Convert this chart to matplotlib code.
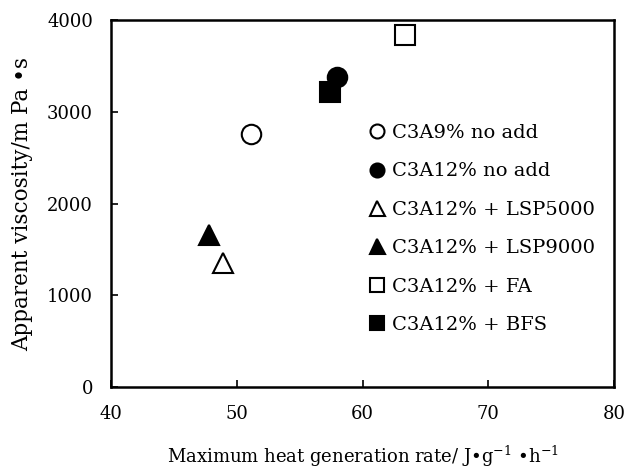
import matplotlib.pyplot as plt

# samples: label, max heat rate (J/g/h), apparent viscosity (mPa.s)
labels = [
    "C3A9% no add",
    "C3A12% no add",
    "C3A12% + LSP5000",
    "C3A12% + LSP9000",
    "C3A12% + FA",
    "C3A12% + BFS",
]
heat_rate = [51.1, 58.0, 48.9, 47.8, 63.4, 57.4]
viscosity = [2757, 3375, 1353, 1657, 3840, 3219]

markers = ["o", "o", "^", "^", "s", "s"]
faces = ["white", "black", "white", "black", "white", "black"]
sizes = [14, 14, 15, 15, 14, 14]

plt.rcParams["font.family"] = ["DejaVu Serif"]
plt.rcParams["mathtext.fontset"] = "dejavuserif"

fig = plt.figure(figsize=(6.25, 4.72), dpi=100)
ax = fig.add_axes([0.1776, 0.18, 0.805, 0.7776])

for x, y, lab, m, fc, s in zip(heat_rate, viscosity, labels, markers, faces, sizes):
    ax.plot(x, y, linestyle="none", marker=m, markersize=s,
            markerfacecolor=fc, markeredgecolor="black", markeredgewidth=1.5,
            label=lab)

ax.set_xlim(40, 80)
ax.set_ylim(0, 4000)
ax.set_xticks([40, 50, 60, 70, 80])
ax.set_yticks([0, 1000, 2000, 3000, 4000])
ax.tick_params(direction="in", length=5, width=1.2, labelsize=13, pad=13)
for sp in ax.spines.values():
    sp.set_linewidth(1.8)

ax.set_xlabel("Maximum heat generation rate/ J\u2022g$^{-1}$ \u2022h$^{-1}$",
              fontsize=13, labelpad=15)
ax.set_ylabel("Apparent viscosity/m Pa \u2022s", fontsize=15.5, labelpad=10)

ax.legend(loc="upper left", bbox_to_anchor=(369 / 625, 1 - 124 / 472),
          bbox_transform=fig.transFigure, frameon=False, fontsize=14,
          markerscale=0.72, handlelength=0.8, handletextpad=0.4,
          labelspacing=1.05, borderpad=0, borderaxespad=0)

fig.savefig("out.png", dpi=100)
